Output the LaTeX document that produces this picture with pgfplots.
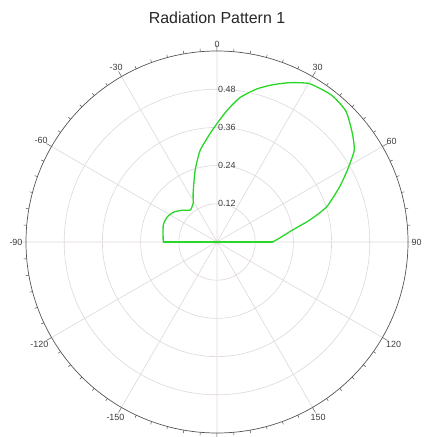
\documentclass[border=0pt]{standalone}
\usepackage{fontspec}
\setmainfont{Liberation Sans}
\usepackage{pgfplots}
\pgfplotsset{compat=1.18}
\usepgfplotslibrary{polar}
\definecolor{patgreen}{RGB}{40,215,40}
\definecolor{gridc}{RGB}{222,214,220}
\definecolor{axc}{RGB}{85,85,85}
\definecolor{labc}{RGB}{60,60,60}
\begin{document}
\begin{tikzpicture}
\begin{polaraxis}[
  width=382bp, scale only axis,
  xmin=0, xmax=360, ymin=0, ymax=0.6,
  xtick={0,30,...,330},
  xticklabels={90,60,30,0,-30,-60,-90,-120,-150,{},150,120},
  minor x tick num=5,
  ytick={0.12,0.24,0.36,0.48},
  yticklabels={},
  ytick style={draw=none},
  y axis line style={draw=none},
  grid=major,
  major grid style={gridc, line width=0.6bp},
  x axis line style={axc, line width=0.7bp},
  xtick style={axc, line width=0.5bp},
  major tick length=6bp,
  minor tick length=3bp,
  /pgf/number format/assume math mode=true,
  xticklabel style={font=\fontsize{9}{10}\selectfont, text=labc},
]
\coordinate (c) at (axis cs:0,0);
\addplot[patgreen, line width=1.3bp, line join=round, smooth, tension=0.35] coordinates {
(180,0.169) (162.5,0.177) (153.4,0.175) (145.7,0.166) (137.6,0.148)
(130,0.131) (121.6,0.143) (116,0.171) (107,0.235) (100.5,0.292)
(93.7,0.341) (90,0.372) (85.7,0.414) (81,0.459) (75.4,0.497)
(70.5,0.524) (65.5,0.550) (59.7,0.576) (52.1,0.585)
(45.4,0.577) (38.7,0.545) (33.7,0.518) (28.8,0.467) (24.1,0.421)
(17.7,0.361) (13.3,0.299) (9,0.240) (3.6,0.197) (0,0.175)
};
\addplot[patgreen, line width=1.3bp, line join=round] coordinates {
(0,0.175) (0,0) (180,0.169)
};
\node[anchor=west, inner sep=1bp, font=\fontsize{9}{10}\selectfont, text=labc] at (axis cs:90,0.12) {0.12};
\node[anchor=west, inner sep=1bp, font=\fontsize{9}{10}\selectfont, text=labc] at (axis cs:90,0.24) {0.24};
\node[anchor=west, inner sep=1bp, font=\fontsize{9}{10}\selectfont, text=labc] at (axis cs:90,0.36) {0.36};
\node[anchor=west, inner sep=1bp, font=\fontsize{9}{10}\selectfont, text=labc] at (axis cs:90,0.48) {0.48};
\end{polaraxis}
\node[font=\fontsize{16}{18}\selectfont, text=black!85] at ([yshift=224bp]c) {Radiation Pattern 1};
\pgfresetboundingbox
\path (c) ++(-217bp,242bp) rectangle ++(430bp,-437bp);
\end{tikzpicture}
\end{document}
